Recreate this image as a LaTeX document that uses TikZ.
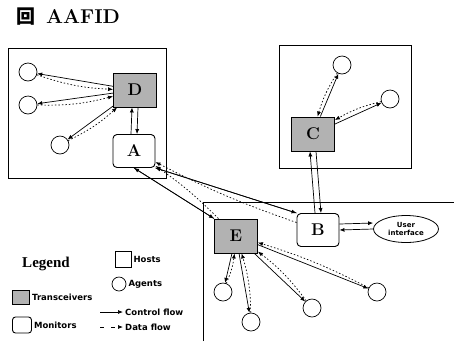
\documentclass[tikz,border=0pt]{standalone}
\usepackage{fontspec}
\newfontfamily\cjk{Noto Sans CJK SC}
\newfontfamily\legendfont{DejaVu Sans}
\newfontfamily\timesfont{Liberation Serif}
\usetikzlibrary{arrows.meta,shapes.geometric}

\begin{document}
\begin{tikzpicture}[x=1pt,y=-1pt]
\tikzset{
  hostbox/.style={draw=black,line width=0.9pt},
  monitor/.style={rectangle,rounded corners=4pt,draw=black,line width=0.9pt,fill=white,minimum width=42pt,minimum height=33pt,inner sep=0pt,font=\bfseries\fontsize{17}{18}\selectfont},
  transceiver/.style={rectangle,draw=black,line width=0.9pt,fill=gray!60,minimum width=43pt,minimum height=34pt,inner sep=0pt,font=\bfseries\fontsize{17}{18}\selectfont},
  agent/.style={circle,draw=black,line width=0.7pt,fill=white,minimum size=18pt,inner sep=0pt},
  ctrl/.style={draw=black,line width=0.7pt,-{Latex[length=5pt,width=4pt]}},
  data/.style={draw=black,line width=0.7pt,dash pattern=on 1.5pt off 2pt,-{Latex[length=5pt,width=4pt]}},
  legendtext/.style={font=\legendfont\bfseries\fontsize{8.5}{9}\selectfont,anchor=west,inner sep=2pt}
}
\useasboundingbox (0,0) rectangle (454,341);
% title
\node[anchor=west,inner sep=0pt] (n_title) at (16,17) {{\cjk\bfseries\fontsize{19}{20}\selectfont 回}\hspace{11pt}{\bfseries\fontsize{20}{22}\selectfont AAFID}};
% hosts
\draw[hostbox] (8,48) rectangle (166,178);
\draw[hostbox] (279,45) rectangle (411,168);
\draw[hostbox] (203,341) -- (203,202) -- (454,202);
% transceivers and monitors
\node[transceiver] (n_D) at (135,90) {D};
\node[monitor] (n_A) at (134,151) {A};
\node[transceiver] (n_C) at (313,134) {C};
\node[transceiver] (n_E) at (236,236) {E};
\node[monitor] (n_B) at (318,230) {B};
\node[ellipse,draw=black,line width=0.8pt,minimum width=65pt,minimum height=27pt,inner sep=0pt,align=center,font=\legendfont\bfseries\fontsize{7}{8}\selectfont] (n_UI) at (406,229) {User\\interface};
% agents
\node[agent] (n_d1) at (28,72) {};
\node[agent] (n_d2) at (28,105) {};
\node[agent] (n_d3) at (60,145) {};
\node[agent] (n_c1) at (342,65) {};
\node[agent] (n_c2) at (390,99) {};
\node[agent] (n_e1) at (223,292) {};
\node[agent] (n_e2) at (251,322) {};
\node[agent] (n_e3) at (312,308) {};
\node[agent] (n_e4) at (377,292) {};
% flows inside hosts
\draw[ctrl] (n_D) -- (n_d1);
\draw[data] (n_d1) to[bend right=8] (n_D);
\draw[ctrl] (n_D) -- (n_d2);
\draw[data] (n_d2) to[bend right=8] (n_D);
\draw[ctrl] (n_D) -- (n_d3);
\draw[data] (n_d3) to[bend right=8] (n_D);
\draw[ctrl] (n_C) -- (n_c1);
\draw[data] (n_c1) to[bend right=8] (n_C);
\draw[ctrl] (n_C) -- (n_c2);
\draw[data] (n_c2) to[bend right=8] (n_C);
\draw[ctrl] (n_E) -- (n_e1);
\draw[data] (n_e1) to[bend right=8] (n_E);
\draw[ctrl] (n_E) -- (n_e2);
\draw[data] (n_e2) to[bend right=8] (n_E);
\draw[ctrl] (n_E) -- (n_e3);
\draw[data] (n_e3) to[bend right=8] (n_E);
\draw[ctrl] (n_E) -- (n_e4);
\draw[data] (n_e4) to[bend right=5] (n_E);
% flows between hosts
\draw[ctrl] ([xshift=-3pt]n_A.north) -- ([xshift=-3pt]n_D.south);
\draw[ctrl] ([xshift=3pt]n_D.south) -- ([xshift=3pt]n_A.north);
\draw[ctrl] ([xshift=-3pt]n_B.north) -- ([xshift=-3pt]n_C.south);
\draw[ctrl] ([xshift=3pt]n_C.south) -- ([xshift=3pt]n_B.north);
\draw[ctrl] (n_A.south east) -- (n_B.north west);
\draw[ctrl] (n_B.north west) -- (n_A.south east);
\draw[data] (n_B) to[bend left=4] (n_A);
\draw[ctrl] (n_A.south) -- (n_E.north west);
\draw[ctrl] (n_E.north west) -- (n_A.south);
\draw[data] (n_E) to[bend right=5] (n_A);
\draw[ctrl] (n_UI.west) -- (n_B.east);
\draw[ctrl] ([yshift=6pt]n_B.east) -- ([yshift=6pt]n_UI.west);
% legend
\node[font=\timesfont\bfseries\fontsize{15}{16}\selectfont] (n_legend) at (46,264) {Legend};
\node[draw=black,line width=0.8pt,minimum size=16pt,inner sep=0pt] (n_lhost) at (123,259) {};
\node[legendtext] (n_lhosttext) at (n_lhost.east) {Hosts};
\node[agent,minimum size=14pt] (n_lagent) at (119,284) {};
\node[legendtext] (n_lagenttext) at (n_lagent.east) {Agents};
\node[transceiver,minimum width=17pt,minimum height=14pt] (n_ltrans) at (21,297) {};
\node[legendtext] (n_ltranstext) at (n_ltrans.east) {Transceivers};
\node[monitor,minimum width=19pt,minimum height=16pt,rounded corners=3pt] (n_lmon) at (22,325) {};
\node[legendtext] (n_lmontext) at (n_lmon.east) {Monitors};
\coordinate (n_lc0) at (100,312);
\coordinate (n_lc1) at (123,312);
\draw[ctrl] (n_lc0) -- (n_lc1);
\node[legendtext] (n_lctext) at (n_lc1) {Control flow};
\coordinate (n_ld0) at (100,327);
\coordinate (n_ld1) at (123,327);
\draw[data,dash pattern=on 4pt off 7pt] (n_ld0) -- (n_ld1);
\node[legendtext] (n_ldtext) at (n_ld1) {Data flow};
\end{tikzpicture}
\end{document}
